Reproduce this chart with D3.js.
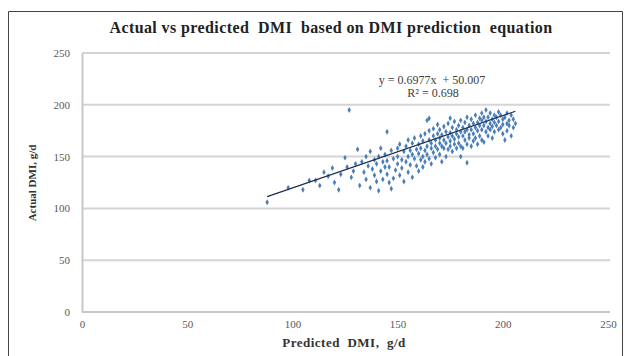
<!DOCTYPE html>
<html>
<head>
<meta charset="utf-8">
<script src="https://cdn.jsdelivr.net/npm/d3@7"></script>
<style>
  body { margin: 0; background: #fff; }
  svg { display: block; }
  .tick text { font-family: "Liberation Serif", serif; font-size: 11px; fill: #595959; }
</style>
</head>
<body>
<svg id="chart" width="630" height="356"></svg>
<script>
// predicted DMI (x) vs actual DMI (y), g/d
var obs = [
  [88,106],[98,120],[105,118],[108,127],[111,127],[113,122],[115,135],[117,131],[119,139],[120,125],
  [122,118],[123,133],[125,149],[126,140],[127,195],[128,130],[129,136],[130,143],[131,157],[132,122],
  [133,145],[134,135],[135,128],[135,150],[136,141],[137,120],[137,155],[138,138],[139,147],[139,132],
  [140,143],[140,126],[141,150],[141,117],[142,136],[142,158],[143,145],[143,128],[144,140],[144,152],
  [145,174],[145,133],[145,146],[146,125],[146,140],[147,156],[147,119],[148,129],[148,148],[149,137],
  [150,150],[150,143],[150,158],[151,132],[151,162],[152,147],[152,139],[153,155],[153,126],[154,160],
  [154,145],[155,150],[155,135],[155,166],[156,142],[156,156],[157,152],[157,163],[157,130],[158,148],
  [158,168],[159,141],[159,157],[160,153],[160,162],[160,136],[161,147],[161,170],[161,158],[162,150],
  [162,165],[162,140],[163,156],[163,172],[163,145],[164,185],[164,160],[164,152],[165,166],[165,148],
  [165,187],[165,175],
  [166,158],[166,163],[166,143],[167,170],[167,154],[167,177],[168,160],[168,166],[168,149],[169,172],
  [169,157],[169,181],[170,163],[170,168],[170,152],[170,176],[171,160],[171,171],[171,145],[172,166],
  [172,179],[172,158],[173,174],[173,163],[173,150],[174,169],[174,182],[174,157],[175,165],[175,173],
  [175,160],[175,187],[176,170],[176,155],[176,178],[177,167],[177,162],[177,184],[178,172],[178,158],
  [178,176],[179,169],[179,180],[179,163],[180,174],[180,185],[180,160],[180,150],
  [181,170],[181,178],[181,158],[182,183],[182,166],[182,174],[183,144],[183,176],[183,188],[183,162],
  [184,171],[184,180],[184,168],[185,176],[185,160],[185,186],[186,172],[186,182],[186,165],[187,178],
  [187,190],[187,168],[188,175],[188,183],[188,162],[189,180],[189,170],[189,187],[190,176],[190,185],
  [190,166],[190,192],[191,164],[191,180],[191,188],[192,174],[192,184],[192,195],[193,178],[193,188],
  [193,170],[194,182],[194,192],[194,176],[195,186],[195,168],[195,179],
  [196,190],[196,183],[196,174],[197,188],[197,180],[198,193],[198,184],[198,176],[199,178],[199,190],
  [200,186],[200,181],[200,172],[201,166],[201,188],[202,175],[202,182],[202,192],[203,180],[203,185],
  [204,170],[204,190],[205,178],[205,186],[206,182]
];
var xTicks = [0, 50, 100, 150, 200, 250];
var yTicks = [0, 50, 100, 150, 200, 250];
var slope = 0.6977, intercept = 50.007;
var eqLabel = "y = 0.6977x  + 50.007";
var r2Label = "R\u00b2 = 0.698";

var svg = d3.select('svg#chart');

// outer frame
svg.append('path')
    .attr('d', 'M8.5,356 L8.5,11.5 L622.5,11.5 L622.5,356')
    .attr('fill', 'none')
    .attr('stroke', '#444')
    .attr('stroke-width', 1);

var x = d3.scaleLinear().domain([0, 250]).range([82, 608]);
var y = d3.scaleLinear().domain([0, 250]).range([312, 53]);

// gridlines
svg.append('g').selectAll('line')
    .data(yTicks.filter(function(d){ return d > 0; }))
    .enter().append('line')
    .attr('x1', x(0)).attr('x2', x(250) + 2)
    .attr('y1', function(d){ return y(d); })
    .attr('y2', function(d){ return y(d); })
    .attr('stroke', '#d4d4d4')
    .attr('stroke-width', 2);

// axes
var xAxis = svg.append('g')
    .attr('transform', 'translate(0,' + y(0) + ')')
    .call(d3.axisBottom(x).tickValues(xTicks).tickSize(0).tickPadding(8));
var yAxis = svg.append('g')
    .attr('transform', 'translate(' + x(0) + ',0)')
    .call(d3.axisLeft(y).tickValues(yTicks).tickSize(0).tickPadding(12));
xAxis.select('.domain').attr('stroke', '#c8c8c8').attr('stroke-width', 2)
    .attr('d', 'M' + x(0) + ',0H' + (x(250) + 2));
yAxis.select('.domain').attr('stroke', '#c8c8c8').attr('stroke-width', 2);

// points
svg.append('g').selectAll('path')
    .data(obs)
    .enter().append('path')
    .attr('d', d3.symbol().type(d3.symbolDiamond).size(10))
    .attr('transform', function(d){ return 'translate(' + x(d[0]) + ',' + y(d[1]) + ')'; })
    .attr('fill', '#4a7ebb');

// trend line
var xMin = d3.min(obs, function(d){ return d[0]; });
var xMax = d3.max(obs, function(d){ return d[0]; });
svg.append('line')
    .attr('x1', x(xMin)).attr('y1', y(slope * xMin + intercept))
    .attr('x2', x(xMax)).attr('y2', y(slope * xMax + intercept))
    .attr('stroke', '#1f2d4a')
    .attr('stroke-width', 1.2);

// equation
svg.append('text')
    .attr('x', 432).attr('y', 84)
    .attr('text-anchor', 'middle')
    .style('font-family', '"Liberation Serif", serif')
    .style('font-size', '12px')
    .attr('fill', '#404040')
    .attr('xml:space', 'preserve')
    .text(eqLabel);
svg.append('text')
    .attr('x', 433).attr('y', 97)
    .attr('text-anchor', 'middle')
    .style('font-family', '"Liberation Serif", serif')
    .style('font-size', '12px')
    .attr('fill', '#404040')
    .text(r2Label);

// titles
svg.append('text')
    .attr('x', 331).attr('y', 33)
    .attr('text-anchor', 'middle')
    .style('font-family', '"Liberation Serif", serif')
    .style('font-size', '16px')
    .style('font-weight', 'bold')
    .style('letter-spacing', '0.4px')
    .attr('fill', '#222')
    .attr('xml:space', 'preserve')
    .text('Actual vs predicted  DMI  based on DMI prediction  equation');
svg.append('text')
    .attr('x', 344).attr('y', 347)
    .attr('text-anchor', 'middle')
    .style('font-family', '"Liberation Serif", serif')
    .style('font-size', '13px')
    .style('font-weight', 'bold')
    .style('letter-spacing', '0.5px')
    .attr('fill', '#333')
    .attr('xml:space', 'preserve')
    .text('Predicted  DMI,  g/d');
svg.append('text')
    .attr('transform', 'translate(36,183) rotate(-90)')
    .attr('text-anchor', 'middle')
    .style('font-family', '"Liberation Serif", serif')
    .style('font-size', '11px')
    .style('font-weight', 'bold')
    .attr('fill', '#333')
    .text('Actual DMI,  g/d');
</script>
</body>
</html>
